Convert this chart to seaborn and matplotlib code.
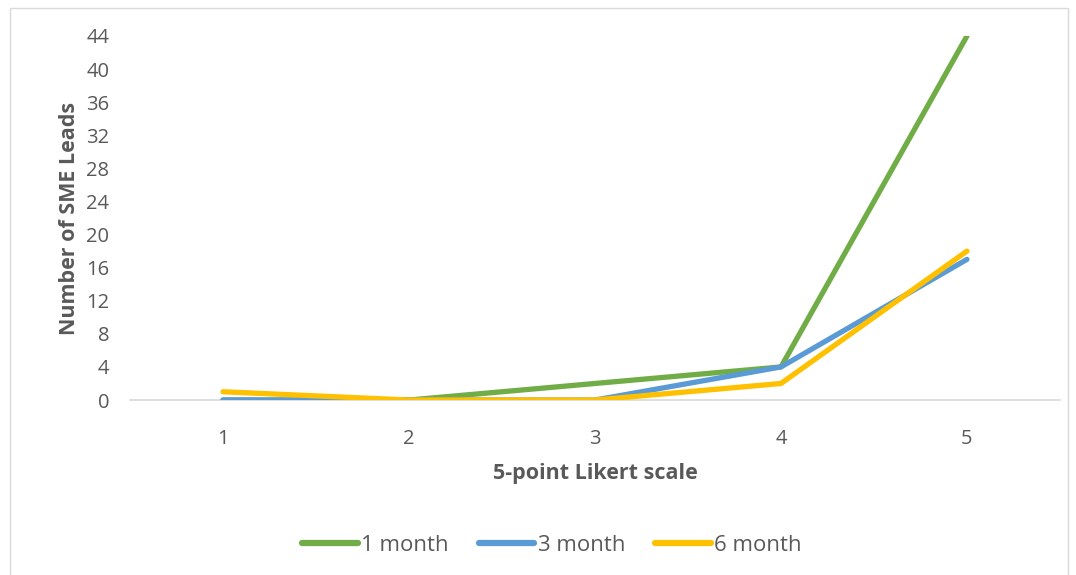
import pandas as pd
import seaborn as sns
import matplotlib.pyplot as plt
from matplotlib.patches import Rectangle

likert = [1, 2, 3, 4, 5]
one_month = [0, 0, 2, 4, 44]
three_month = [0, 0, 0, 4, 17]
six_month = [1, 0, 0, 2, 18]
series_names = ['1 month', '3 month', '6 month']
colors = ['#70AD47', '#5B9BD5', '#FFC000']

df = pd.DataFrame({
    'Likert': likert * 3,
    'Leads': one_month + three_month + six_month,
    'Period': [n for n in series_names for _ in likert],
})

sns.set_style('white')
plt.rcParams['font.family'] = ['Open Sans', 'DejaVu Sans']
text_color = '#595959'

fig = plt.figure(figsize=(10.76, 5.75), dpi=100)
ax = fig.add_axes([0.1208, 0.3043, 0.8643, 0.6331])

sns.lineplot(data=df, x='Likert', y='Leads', hue='Period', palette=colors,
             hue_order=series_names, linewidth=3.8, ax=ax, legend=True)
for line in ax.lines:
    line.set_solid_capstyle('round')
    line.set_solid_joinstyle('round')

ax.set_xlim(0.5, 5.5)
ax.set_ylim(0, 44)
ax.set_xticks(likert)
ax.set_yticks(range(0, 45, 4))
ax.tick_params(axis='both', length=0, labelsize=14.5, colors=text_color)
ax.tick_params(axis='y', pad=15)
ax.tick_params(axis='x', pad=21)
for s in ['top', 'right', 'left']:
    ax.spines[s].set_visible(False)
ax.spines['bottom'].set_color('#D9D9D9')
ax.spines['bottom'].set_linewidth(1.2)
ax.spines['bottom'].set_zorder(0)

ax.set_xlabel('5-point Likert scale', fontsize=15.5, fontweight='bold', color=text_color, labelpad=10)
ax.set_ylabel('Number of SME Leads', fontsize=15.5, fontweight='bold', color=text_color, labelpad=4)

ax.legend_.remove()
handles, labels = ax.get_legend_handles_labels()
leg = fig.legend(handles, labels, loc='center', bbox_to_anchor=(0.513, 0.052), ncol=3,
                 frameon=False, fontsize=16, handlelength=2.5, handletextpad=0.15,
                 columnspacing=1.35)
for t in leg.get_texts():
    t.set_color(text_color)
for h in leg.get_lines():
    h.set_linewidth(4.5)
    h.set_solid_capstyle('round')

fig.patches.append(Rectangle((10 / 1076, -0.01), 1058 / 1076, 1 - 8 / 575 + 0.01,
                             transform=fig.transFigure, fill=False,
                             edgecolor='#D9D9D9', linewidth=1.0))

fig.savefig('out.png', dpi=100)
